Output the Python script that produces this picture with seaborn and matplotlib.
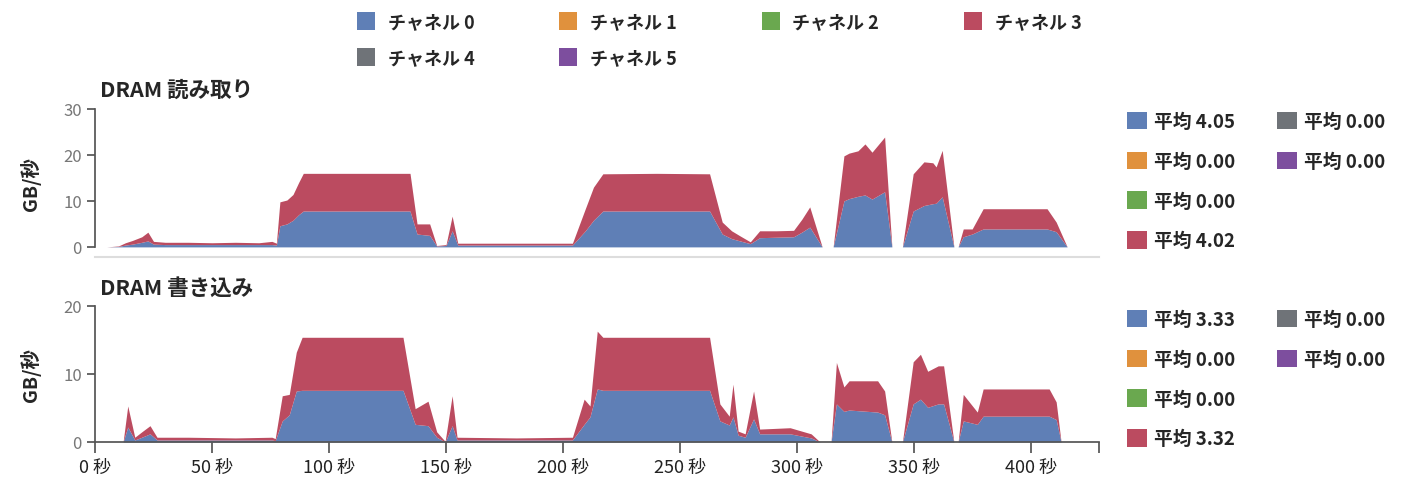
import matplotlib
matplotlib.use("Agg")
import matplotlib.pyplot as plt
from matplotlib.patches import Patch
import seaborn as sns

# チャネル名と色
channels = ["チャネル 0", "チャネル 1", "チャネル 2", "チャネル 3", "チャネル 4", "チャネル 5"]
colors = ["#5f7fb6", "#e0913d", "#6aa84f", "#bb4b60", "#6f7378", "#7d4e9e"]

# DRAM 読み取り (GB/秒)
read_t = [5, 10, 13, 16, 20, 22.6, 25, 30, 40, 50, 60, 70, 75.6, 77.5, 79, 82, 84.6, 87, 89,
          110, 134.6, 137.6, 143, 146, 150, 152.6, 155, 180, 204, 209.5, 213, 217, 240, 262.6,
          268, 272, 275.6, 280, 284, 291, 298.5, 302, 305.4, 310.7, 315.4, 320, 322.2, 326,
          329, 332, 337.4, 340.5, 345, 349.6, 354.2, 358, 359.4, 362, 367, 368.8, 371, 374.8,
          379.5, 406.8, 410.7, 415.4]
read_ch0 = [0, 0.1, 0.4, 0.6, 1.0, 1.3, 0.6, 0.5, 0.5, 0.5, 0.5, 0.5, 0.5, 0.4, 4.6, 5.0, 5.8, 7.0, 7.8,
            7.8, 7.8, 2.8, 2.5, 0.2, 0.3, 3.5, 0.4, 0.4, 0.4, 3.5, 5.8, 7.8, 7.8, 7.8,
            2.8, 1.8, 1.3, 0.7, 2.0, 2.1, 2.2, 3.2, 4.3, 0, 0, 10.0, 10.5, 11.0,
            11.3, 10.4, 12.0, 0, 0, 7.8, 9.0, 9.4, 9.5, 10.9, 0, 0, 2.2, 2.8,
            3.9, 3.9, 3.3, 0]
read_ch3 = [0, 0.1, 0.5, 0.8, 1.2, 1.9, 0.6, 0.5, 0.5, 0.4, 0.5, 0.4, 0.7, 0.4, 5.2, 5.2, 5.6, 7.0, 8.2,
            8.2, 8.2, 2.2, 2.5, 0.1, 0.2, 3.2, 0.4, 0.4, 0.4, 4.8, 7.2, 8.1, 8.2, 8.1,
            2.6, 1.7, 1.1, 0.4, 1.5, 1.4, 1.4, 2.8, 4.4, 0, 0, 9.8, 9.9, 9.9,
            11.1, 10.2, 11.9, 0, 0, 8.1, 9.5, 8.9, 7.9, 10.1, 0, 0, 1.7, 1.1,
            4.4, 4.4, 2.1, 0]

# DRAM 書き込み (GB/秒)
write_t = [10, 12, 14, 17, 20, 23.5, 26.5, 40, 60, 75.6, 77, 80, 83, 86, 88.5, 110, 131.6,
           136.8, 142.3, 146, 149.6, 152.6, 154.7, 180, 204, 209, 211.5, 214.6, 217, 240,
           262.6, 267, 271, 272.6, 274.8, 277.8, 281.4, 284, 297, 306, 309.8, 314.5, 316.8,
           320, 322.2, 334.4, 337.4, 340.5, 345, 349.6, 352.7, 355.8, 360.3, 362.6, 367,
           368.8, 371, 377, 379.5, 407.7, 410.7, 412.8]
write_ch0 = [0, 0, 2.2, 0.3, 0.7, 1.2, 0.3, 0.3, 0.3, 0.3, 0.2, 3.1, 4.0, 7.5, 7.6, 7.6, 7.6,
             2.6, 2.4, 0.7, 0, 2.4, 0.3, 0.3, 0.3, 2.6, 3.7, 7.8, 7.6, 7.6,
             7.6, 3.1, 2.5, 3.7, 1.0, 0.7, 3.4, 1.2, 1.2, 0.6, 0, 0, 5.6,
             4.5, 4.7, 4.4, 4.0, 0, 0, 5.6, 6.3, 5.1, 5.6, 5.6, 0,
             0, 3.1, 2.6, 3.8, 3.8, 3.3, 0]
write_ch3 = [0, 0, 3.1, 0.4, 0.8, 1.2, 0.4, 0.4, 0.3, 0.4, 0.3, 3.7, 3.0, 5.7, 7.8, 7.8, 7.8,
             2.3, 3.6, 0.8, 0.1, 4.4, 0.4, 0.3, 0.4, 3.7, 1.6, 8.5, 7.8, 7.8,
             7.8, 2.5, 1.3, 4.8, 0.6, 0.5, 4.1, 0.7, 0.9, 0.6, 0, 0, 6.1,
             3.6, 4.3, 4.6, 3.5, 0, 0, 6.2, 6.6, 5.3, 5.6, 5.6, 0,
             0, 3.9, 1.8, 4.0, 4.0, 2.6, 0]

read_avg = ["平均 4.05", "平均 0.00", "平均 0.00", "平均 4.02", "平均 0.00", "平均 0.00"]
write_avg = ["平均 3.33", "平均 0.00", "平均 0.00", "平均 3.32", "平均 0.00", "平均 0.00"]

x_ticks = [0, 50, 100, 150, 200, 250, 300, 350, 400]
x_labels = [f"{t} 秒" for t in x_ticks]

sns.set_theme(style="white")
plt.rcParams['font.family'] = ['Noto Sans CJK JP', 'DejaVu Sans']

W, H = 1407, 489
fig = plt.figure(figsize=(W / 100, H / 100), dpi=100)


def px_axes(left, top, right, bottom):
    return fig.add_axes([left / W, 1 - bottom / H, (right - left) / W, (bottom - top) / H])


ax_r = px_axes(95, 110, 1099, 258)
ax_w = px_axes(95, 307, 1099, 443)

panels = [
    (ax_r, read_t, read_ch0, read_ch3, "DRAM 読み取り", (-2.2, 30), [0, 10, 20, 30]),
    (ax_w, write_t, write_ch0, write_ch3, "DRAM 書き込み", (0, 20), [0, 10, 20]),
]

for ax, t, ch0, ch3, title, ylim, yticks in panels:
    zeros = [0] * len(t)
    ax.stackplot(t, ch0, zeros, zeros, ch3, zeros, zeros, colors=colors, linewidth=0)
    ax.set_xlim(0, 429)
    ax.set_ylim(*ylim)
    ax.set_yticks(yticks)
    ax.spines['left'].set_bounds(yticks[0], yticks[-1])
    sns.despine(ax=ax)
    ax.spines['left'].set_color('#555555')
    ax.tick_params(axis='y', left=True, length=6, color='#555555', labelsize=12, labelcolor='#777777')
    ax.set_ylabel("GB/秒", fontsize=14, fontweight='bold', labelpad=16)
    ax.text(0.005, 1.06, title, transform=ax.transAxes, fontsize=15.5, fontweight='bold',
            ha='left', va='bottom')

ax_r.set_xticks([])
ax_r.spines['bottom'].set_color('#dddddd')
ax_r.spines['bottom'].set_linewidth(1.5)

ax_w.set_xticks(x_ticks + [429])
ax_w.set_xticklabels(x_labels + [""])
ax_w.spines['bottom'].set_color('#555555')
ax_w.tick_params(axis='x', bottom=True, length=8, color='#555555', labelsize=13, labelcolor='#222222')

handles = [Patch(facecolor=c, edgecolor='none') for c in colors]

# 上の凡例は行方向に並べる
order = [0, 4, 1, 5, 2, 3]
fig.legend([handles[i] for i in order], [channels[i] for i in order], ncol=4, loc='upper left',
           bbox_to_anchor=(357 / W, 1 - 13 / H), frameon=False,
           prop={'size': 13, 'weight': 'bold'}, handlelength=1.0, handleheight=1.1,
           handletextpad=0.7, columnspacing=4.7, labelspacing=0.95, borderpad=0, borderaxespad=0)

for labels, top in [(read_avg, 113), (write_avg, 311)]:
    fig.legend(handles[:4], labels[:4], loc='upper left', bbox_to_anchor=(1127 / W, 1 - top / H),
               frameon=False, prop={'size': 13.5, 'weight': 'bold'}, handlelength=1.05,
               handleheight=1.05, handletextpad=0.4, labelspacing=1.1, borderpad=0, borderaxespad=0)
    fig.legend(handles[4:], labels[4:], loc='upper left', bbox_to_anchor=(1277 / W, 1 - top / H),
               frameon=False, prop={'size': 13.5, 'weight': 'bold'}, handlelength=1.05,
               handleheight=1.05, handletextpad=0.4, labelspacing=1.1, borderpad=0, borderaxespad=0)

fig.savefig("out.png", dpi=100)
